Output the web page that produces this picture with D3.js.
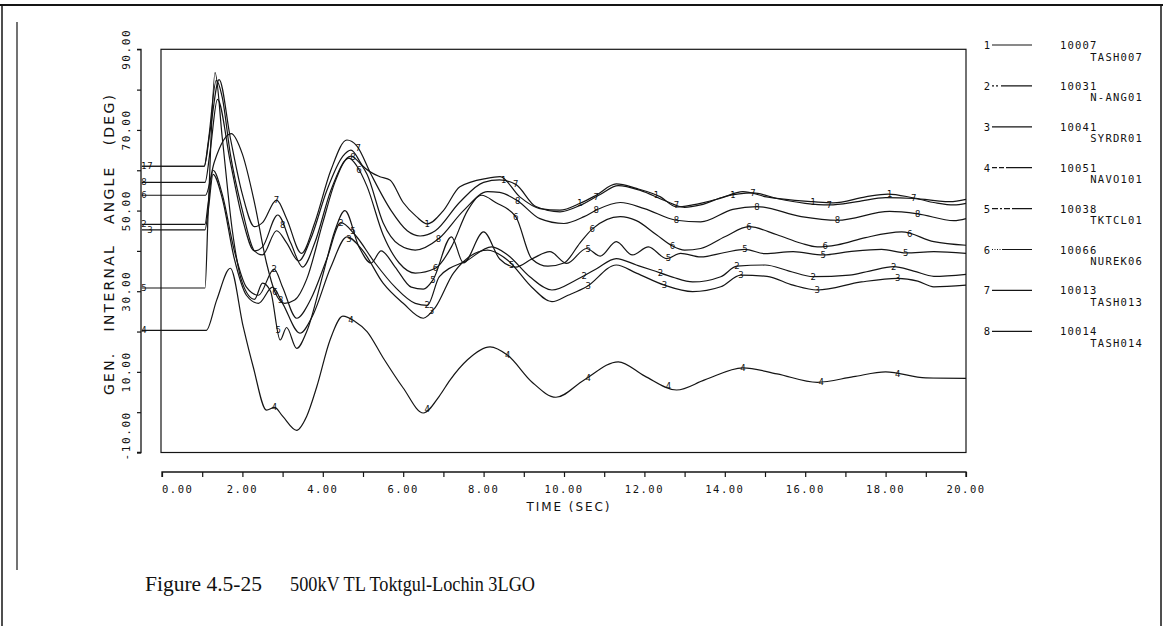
<!DOCTYPE html>
<html><head><meta charset="utf-8">
<script src="https://cdn.jsdelivr.net/npm/d3@7"></script>
<style>
html,body{margin:0;padding:0;background:#fff;}
svg{display:block;}
text{fill:#111;}
</style></head>
<body>
<svg id="chart" width="1163" height="626"></svg>
<script>
// ---------- DATA ----------
const legendNums  = ["1","2","3","4","5","6","7","8"];
const busIds      = ["10007","10031","10041","10051","10038","10066","10013","10014"];
const busNames    = ["TASH007","N-ANG01","SYRDR01","NAVO101","TKTCL01","NUREK06","TASH013","TASH014"];
const xTickValues = [0,2,4,6,8,10,12,14,16,18,20];
const xTickLabels = ["0.00","2.00","4.00","6.00","8.00","10.00","12.00","14.00","16.00","18.00","20.00"];
const yTickValues = [-10,10,30,50,70,90];
const yTickLabels = ["-10.00","10.00","30.00","50.00","70.00","90.00"];
const xTitle = "TIME (SEC)";
const yTitle = "GEN.   INTERNAL   ANGLE   (DEG)";
const caption1 = "Figure 4.5-25";
const caption2 = "500kV TL Toktgul-Lochin 3LGO";

// time (s), angle (deg)
const series1 = [[-0.5,61],[1.05,61],[1.15,67],[1.35,82.3],[1.5,78],[1.7,64],[2.0,50],[2.3,40],[2.5,39],[2.85,45],[3.1,42],[3.4,37.5],[3.7,43],[4.1,55],[4.5,63.5],[4.7,65],[5.0,61],[5.42,58.4],[5.67,57.6],[6.0,52],[6.33,48.5],[6.6,46.7],[7.0,50],[7.41,55.9],[8.08,58],[8.41,58.4],[8.9,53.4],[9.4,50.5],[9.9,50.1],[10.4,51.8],[10.8,53.8],[11.3,56.6],[11.8,55.5],[12.4,53.4],[12.8,50.9],[13.2,51.4],[13.9,53.1],[14.45,54.7],[15.04,53.4],[16.2,52.2],[16.7,51.9],[17.5,53.4],[18.06,54.1],[18.8,53],[19.6,52.2],[20,52.8]];
const series7 = [[-0.5,61],[1.05,61],[1.2,70],[1.42,82.5],[1.7,68],[2.0,54],[2.3,46],[2.5,47],[2.85,52.6],[3.1,48],[3.47,39.4],[3.8,47],[4.2,60],[4.6,67.5],[4.85,66],[5.2,59],[5.7,50],[6.1,45],[6.42,43.7],[6.8,45],[7.4,52],[8.0,57],[8.4,57.6],[8.8,56.5],[9.3,51],[9.9,49.7],[10.4,51.3],[10.9,54],[11.35,56.2],[11.9,55],[12.5,52.5],[13.0,50.8],[13.4,51.4],[14.0,53.5],[14.7,54.4],[15.3,53],[16.0,51.8],[16.6,51.4],[17.3,52.2],[18.0,53.2],[18.7,53],[19.2,52],[19.7,51.4],[20,51.8]];
const series8 = [[-0.5,57],[1.07,57],[1.2,65],[1.38,77.6],[1.7,62],[2.0,48],[2.3,40],[2.5,41],[2.88,48.9],[3.2,42],[3.5,36],[3.8,42],[4.2,55],[4.7,63.5],[4.85,62.5],[5.1,59],[5.5,47],[5.9,41.5],[6.3,40.2],[6.88,43],[7.5,50],[8.1,54.7],[8.4,54.5],[8.85,52.4],[9.4,48],[10.0,46.8],[10.5,48.5],[10.8,50.1],[11.4,52],[12.0,50.5],[12.8,47.6],[13.4,47.2],[14.2,50.3],[14.8,51],[15.9,48.5],[16.8,47.6],[18.1,49.8],[18.8,49.2],[19.7,47.5],[20,48]];
const series6 = [[-0.5,53.8],[1.08,53.8],[1.3,62],[1.72,69.1],[2.0,64],[2.3,52],[2.6,37],[2.81,29.8],[3.05,27],[3.3,27.8],[3.6,33],[4.0,47],[4.3,57],[4.65,63],[4.85,61],[5.1,56],[5.5,44],[5.9,37],[6.3,34.5],[6.8,35.7],[7.2,41],[7.6,50],[7.95,53.8],[8.3,52],[8.8,48.5],[9.2,38],[9.6,36.2],[10.0,37],[10.4,42],[10.7,45.4],[11.4,48.5],[11.8,47.5],[12.3,44],[12.7,41.2],[13.0,40.2],[13.4,40.6],[14.0,43.5],[14.6,46],[15.3,44],[15.9,41.9],[16.3,41],[16.8,41.5],[17.5,43.3],[18.4,44.7],[19.2,42.3],[20,41.4]];
const series5 = [[-0.5,30.8],[1.07,30.8],[1.15,50],[1.32,84.2],[1.5,68],[1.75,45],[2.0,32],[2.3,28],[2.5,32],[2.7,30],[2.94,17.9],[3.1,21],[3.35,15.8],[3.6,20],[4.0,34],[4.3,45],[4.55,50],[4.9,41],[5.2,37],[5.45,40],[5.8,36],[6.2,31],[6.5,30.5],[6.74,32.8],[7.2,43.5],[7.5,37],[8.0,44.7],[8.4,38],[8.8,36],[9.2,38],[9.65,39.8],[10.07,36.9],[10.56,40.6],[10.9,38.7],[11.3,42.3],[11.7,39],[12.1,41],[12.55,38.1],[12.9,39.4],[13.4,38.5],[14.0,39.6],[14.5,40.4],[15.0,39.3],[15.7,39.8],[16.45,39],[17.1,39.8],[17.9,40.4],[18.5,39.5],[19.2,39.8],[20,39.4]];
const series2 = [[-0.5,46.6],[1.07,46.6],[1.15,52],[1.27,60],[1.5,54],[1.8,40],[2.1,31],[2.4,29],[2.79,35.5],[3.0,31],[3.35,23.3],[3.7,28],[4.1,38],[4.45,47],[4.8,44],[5.3,37],[5.8,31],[6.3,27],[6.6,26.5],[6.9,33.6],[7.6,37.7],[8.2,41],[8.6,39],[9.15,33.6],[9.7,30.3],[10.3,32.8],[10.8,35.5],[11.3,38.1],[11.8,36.5],[12.2,35.2],[12.7,33.5],[13.2,32.3],[13.9,33.6],[14.3,36.2],[15.0,36.5],[15.6,35],[16.2,33.6],[17.1,34],[17.6,35],[18.2,36.1],[18.7,35],[19.2,33.7],[20,34.2]];
const series3 = [[-0.5,45.2],[1.07,45.2],[1.15,50],[1.27,59],[1.5,53],[1.8,38],[2.1,29],[2.4,27],[2.75,31],[3.0,27],[3.43,19.6],[3.75,24],[4.2,36],[4.6,43.5],[5.0,40],[5.5,32],[6.0,27],[6.5,23.3],[6.8,26],[7.25,34.5],[8.1,40.2],[8.6,37.7],[9.2,31],[9.7,27.4],[10.1,29],[10.56,31.1],[11.3,36.5],[11.8,34.5],[12.5,31.5],[13.2,29.9],[13.9,31.1],[14.4,34],[15.05,33.7],[15.7,31.5],[16.3,30.3],[17.4,32.3],[18.3,33.2],[18.8,32.5],[19.2,31.1],[20,31.5]];
const series4 = [[-0.5,20.3],[1.1,20.3],[1.36,27.8],[1.7,35.7],[2.02,21.2],[2.27,11.2],[2.6,0.5],[2.8,1.2],[3.0,-1],[3.35,-4.5],[3.6,-1],[3.85,6.3],[4.18,17.9],[4.5,23.8],[4.8,22.5],[5.1,20],[5.5,13.5],[6.0,6],[6.5,-0.2],[6.9,4],[7.16,7.9],[7.6,13],[8.16,16.2],[8.6,14.1],[9.2,7.5],[9.8,3.7],[10.5,8],[11.35,12.5],[12.0,9],[12.8,5.5],[13.5,8],[14.45,11],[15.3,9.5],[16.3,7.4],[17.2,8.8],[18.0,10],[19.0,8.5],[20,8.4]];
// times at which each curve carries its number tag
const tagTimes1 = [-0.45,6.6,8.5,10.4,12.3,14.2,16.2,18.1];
const tagTimes2 = [-0.45,2.79,4.45,6.6,10.5,12.4,14.3,16.2,18.2];
const tagTimes3 = [-0.3,2.95,4.65,6.7,10.6,12.5,14.4,16.3,18.3];
const tagTimes4 = [-0.45,2.8,4.7,6.6,8.6,10.6,12.6,14.45,16.4,18.3];
const tagTimes5 = [-0.45,2.89,4.75,6.74,8.7,10.6,12.6,14.5,16.45,18.5];
const tagTimes6 = [-0.45,2.81,4.9,6.8,8.8,10.7,12.7,14.6,16.5,18.6];
const tagTimes7 = [-0.3,2.85,4.88,8.8,10.8,12.8,14.7,16.6,18.7];
const tagTimes8 = [-0.45,3.0,4.75,6.88,8.85,10.8,12.8,14.8,16.8,18.8];

const allSeries = [series1,series2,series3,series4,series5,series6,series7,series8];
const allTags = [tagTimes1,tagTimes2,tagTimes3,tagTimes4,tagTimes5,tagTimes6,tagTimes7,tagTimes8];
const legendDash = [null,"2,2,2,3,40",null,"5,2,5,2,40","6,2,2,2,6,2,40","1,1.5,1,1.5,1,1.5,1,1.5,40",null,null];

// ---------- DRAW ----------
const svg = d3.select("#chart");
const ink = "#151515";
const mono = "'DejaVu Sans Mono', monospace";
const sans = "'DejaVu Sans', sans-serif";

const x = d3.scaleLinear().domain([0,20]).range([162,966]);
const y = d3.scaleLinear().domain([-10,90]).range([452.5,49.3]);

// page borders
svg.append("line").attr("x1",0).attr("x2",1163).attr("y1",5).attr("y2",5).attr("stroke",ink).attr("stroke-width",2);
svg.append("line").attr("x1",2).attr("x2",2).attr("y1",4).attr("y2",626).attr("stroke",ink).attr("stroke-width",1.5);
svg.append("line").attr("x1",1161).attr("x2",1161).attr("y1",4).attr("y2",626).attr("stroke",ink).attr("stroke-width",1.5);
svg.append("line").attr("x1",17).attr("x2",17).attr("y1",22).attr("y2",570).attr("stroke",ink).attr("stroke-width",1.2);

// plot frame
svg.append("rect").attr("x",x(0)-1).attr("y",y(90)).attr("width",x(20)-x(0)+1).attr("height",y(-10)-y(90))
  .attr("fill","none").attr("stroke",ink).attr("stroke-width",1.2);

// y axis
const yAxisX = 141;
const yAx = svg.append("g").attr("transform",`translate(${yAxisX},0)`)
  .call(d3.axisLeft(y).tickValues(d3.range(-10,91,10)).tickSize(4).tickFormat(""));
yAx.select(".domain").attr("stroke",ink).attr("stroke-width",1.3).attr("d",`M-4,${y(-10)}H0V${y(90)}H-4`);
yAx.selectAll(".tick line").attr("stroke",ink).attr("stroke-width",1.2);
yTickValues.forEach((v,i)=>{
  const first = i===0;
  svg.append("text").attr("transform",`translate(${yAxisX-11},${y(v)+(first?8:0)}) rotate(-90)`)
    .attr("text-anchor",first?"start":"middle").attr("font-family",mono).attr("font-size",11).attr("letter-spacing",1.6)
    .text(yTickLabels[i]);
});
svg.append("text").attr("transform",`translate(114,245) rotate(-90)`)
  .attr("text-anchor","middle").attr("font-family",sans).attr("font-size",14)
  .attr("textLength",300).attr("lengthAdjust","spacing").style("white-space","pre").text(yTitle);

// x axis
const xAxisY = 472;
const xAx = svg.append("g").attr("transform",`translate(0,${xAxisY})`)
  .call(d3.axisBottom(x).tickValues(d3.range(0,21,1)).tickSize(5).tickFormat(""));
xAx.select(".domain").attr("stroke",ink).attr("stroke-width",1.3).attr("d",`M${x(0)},5V0H${x(20)}V5`);
xAx.selectAll(".tick line").attr("stroke",ink).attr("stroke-width",1.2);
xTickValues.forEach((v,i)=>{
  svg.append("text").attr("x",x(v)).attr("y",xAxisY+21).attr("text-anchor",i===0?"start":"middle")
    .attr("font-family",mono).attr("font-size",10.5).attr("letter-spacing",1.5).text(xTickLabels[i]);
});
svg.append("text").attr("x",568).attr("y",xAxisY+39).attr("text-anchor","middle")
  .attr("font-family",sans).attr("font-size",12).attr("textLength",83).attr("lengthAdjust","spacing").text(xTitle);

// curves
const line = d3.line().x(d=>x(d[0])).y(d=>y(d[1])).curve(d3.curveMonotoneX);
const gCurves = svg.append("g");
allSeries.forEach((s,i)=>{
  gCurves.append("path").datum(s).attr("d",line).attr("fill","none").attr("stroke",ink).attr("stroke-width",1.2);
});
// number tags on curves
function valueAt(s,t){
  for(let k=1;k<s.length;k++){ if(t<=s[k][0]){ const a=s[k-1],b=s[k]; return a[1]+(b[1]-a[1])*(t-a[0])/(b[0]-a[0]); } }
  return s[s.length-1][1];
}
allTags.forEach((tags,i)=>{
  tags.forEach(t=>{
    svg.append("text").attr("x",x(t)).attr("y",y(valueAt(allSeries[i],t))+3)
      .attr("text-anchor","middle").attr("font-family",sans).attr("font-size",8.5)
      .text(legendNums[i]);
  });
});

// legend
const legY0 = 45, legStep = 40.9;
legendNums.forEach((n,i)=>{
  const cy = legY0 + i*legStep;
  svg.append("text").attr("x",987).attr("y",cy+4).attr("text-anchor","middle").attr("font-family",mono).attr("font-size",10.5).text(n);
  svg.append("line").attr("x1",992).attr("x2",1032).attr("y1",cy).attr("y2",cy).attr("stroke",ink).attr("stroke-width",1.2)
    .attr("stroke-dasharray",legendDash[i]);
  svg.append("text").attr("x",1060).attr("y",cy+4).attr("font-family",mono).attr("font-size",10.5).attr("letter-spacing",1.2).text(busIds[i]);
  svg.append("text").attr("x",1143).attr("y",cy+15.5).attr("text-anchor","end").attr("font-family",mono).attr("font-size",10.5).attr("letter-spacing",1.2).text(busNames[i]);
});

// caption
const serif = "'Liberation Serif', 'Times New Roman', serif";
svg.append("text").attr("x",145).attr("y",591).attr("font-family",serif).attr("font-size",20.5)
  .attr("textLength",117).attr("lengthAdjust","spacingAndGlyphs").text(caption1);
svg.append("text").attr("x",290).attr("y",591).attr("font-family",serif).attr("font-size",20.5)
  .attr("textLength",245).attr("lengthAdjust","spacingAndGlyphs").text(caption2);
</script>
</body></html>
